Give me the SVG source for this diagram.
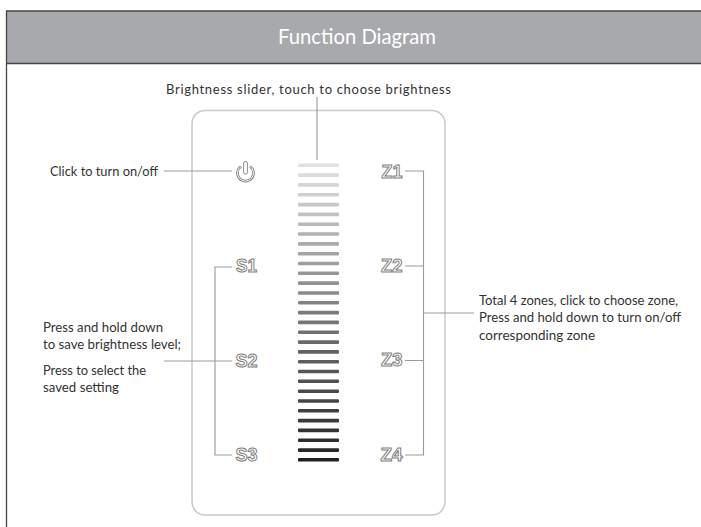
<svg xmlns="http://www.w3.org/2000/svg" width="701" height="527" viewBox="0 0 701 527">
<style>
.t{font-family:Lato,"Open Sans","Liberation Sans",sans-serif;font-size:13px;fill:#333;opacity:.999;}
.k{font-family:"Liberation Sans",Arial,sans-serif;font-size:18px;font-weight:bold;fill:#fff;stroke:#808080;stroke-width:1px;opacity:.999;}
.c{fill:none;stroke:#999;stroke-width:1.100;}
</style>
<rect width="701" height="527" fill="#fff"/>
<g id="frame">
<rect x="6" y="11" width="695" height="53" fill="#a7a9ac"/>
<path d="M701 11H6.500V527M6.500 63.500H701" fill="none" stroke="#444" stroke-width="1.300"/>
<text x="278" y="44" textLength="158" lengthAdjust="spacingAndGlyphs" style="font-family:Lato,'Open Sans',sans-serif;font-size:20.500px;fill:#fff;opacity:.999">Function Diagram</text>
</g>
<g id="panel"><rect x="192" y="110.500" width="253" height="404.500" rx="13" fill="none" stroke="#c9c9c9" stroke-width="1.500"/></g>
<g id="connectors">
<path class="c" d="M317 97V160M164 171H232M232 267H215V455H232M164 361H232M405 171H423.500V455H405M405 266H423.500M405 360.500H423.500M423.500 313H474"/>
</g>
<g id="slider">
<rect x="298" y="163.500" width="41" height="3.600" rx="1" fill="#e2e2e2"/>
<rect x="298" y="173.300" width="41" height="3.600" rx="1" fill="#dcdcdc"/>
<rect x="298" y="183.100" width="41" height="3.600" rx="1" fill="#d5d5d5"/>
<rect x="298" y="193" width="41" height="3.600" rx="1" fill="#cfcfcf"/>
<rect x="298" y="202.800" width="41" height="3.600" rx="1" fill="#c8c8c8"/>
<rect x="298" y="212.600" width="41" height="3.600" rx="1" fill="#c1c1c1"/>
<rect x="298" y="222.400" width="41" height="3.600" rx="1" fill="#bababa"/>
<rect x="298" y="232.200" width="41" height="3.600" rx="1" fill="#b3b3b3"/>
<rect x="298" y="242.100" width="41" height="3.600" rx="1" fill="#acacac"/>
<rect x="298" y="251.900" width="41" height="3.600" rx="1" fill="#a5a5a5"/>
<rect x="298" y="261.700" width="41" height="3.600" rx="1" fill="#9e9e9e"/>
<rect x="298" y="271.500" width="41" height="3.600" rx="1" fill="#979797"/>
<rect x="298" y="281.300" width="41" height="3.600" rx="1" fill="#919191"/>
<rect x="298" y="291.200" width="41" height="3.600" rx="1" fill="#8a8a8a"/>
<rect x="298" y="301" width="41" height="3.600" rx="1" fill="#838383"/>
<rect x="298" y="310.800" width="41" height="3.600" rx="1" fill="#7c7c7c"/>
<rect x="298" y="320.600" width="41" height="3.600" rx="1" fill="#767676"/>
<rect x="298" y="330.400" width="41" height="3.600" rx="1" fill="#707070"/>
<rect x="298" y="340.300" width="41" height="3.600" rx="1" fill="#696969"/>
<rect x="298" y="350.100" width="41" height="3.600" rx="1" fill="#636363"/>
<rect x="298" y="359.900" width="41" height="3.600" rx="1" fill="#5d5d5d"/>
<rect x="298" y="369.700" width="41" height="3.600" rx="1" fill="#575757"/>
<rect x="298" y="379.500" width="41" height="3.600" rx="1" fill="#515151"/>
<rect x="298" y="389.400" width="41" height="3.600" rx="1" fill="#4b4b4b"/>
<rect x="298" y="399.200" width="41" height="3.600" rx="1" fill="#454545"/>
<rect x="298" y="409" width="41" height="3.600" rx="1" fill="#3f3f3f"/>
<rect x="298" y="418.800" width="41" height="3.600" rx="1" fill="#393939"/>
<rect x="298" y="428.600" width="41" height="3.600" rx="1" fill="#333"/>
<rect x="298" y="438.500" width="41" height="3.600" rx="1" fill="#2d2d2d"/>
<rect x="298" y="448.300" width="41" height="3.600" rx="1" fill="#272727"/>
<rect x="298" y="458" width="41" height="3.600" rx="1" fill="#202020"/>
</g>
<g id="power">
<rect x="243.600" y="161.500" width="3.800" height="12.500" rx="1.500" fill="#fff" stroke="#808080" stroke-width=".9"/>
<path d="M241 166.500A8 8 0 1 0 250 166.500" fill="none" stroke="#808080" stroke-width="2.600"/>
<path d="M241 166.500A8 8 0 1 0 250 166.500" fill="none" stroke="#fff" stroke-width="1"/>
</g>
<g id="s1"><text class="k" x="236" y="272.300" textLength="21" lengthAdjust="spacingAndGlyphs">S1</text></g>
<g id="s2"><text class="k" x="235.500" y="366.500" textLength="22" lengthAdjust="spacingAndGlyphs">S2</text></g>
<g id="s3"><text class="k" x="235.500" y="461" textLength="22" lengthAdjust="spacingAndGlyphs">S3</text></g>
<g id="z1"><text class="k" x="381.500" y="177.500" textLength="21" lengthAdjust="spacingAndGlyphs">Z1</text></g>
<g id="z2"><text class="k" x="381" y="272" textLength="21.500" lengthAdjust="spacingAndGlyphs">Z2</text></g>
<g id="z3"><text class="k" x="381" y="366" textLength="21.500" lengthAdjust="spacingAndGlyphs">Z3</text></g>
<g id="z4"><text class="k" x="380.500" y="461" textLength="22" lengthAdjust="spacingAndGlyphs">Z4</text></g>
<g id="labels">
<text class="t" x="166" y="93.500" textLength="285">Brightness slider, touch to choose brightness</text>
<text class="t" x="50" y="176" textLength="108" lengthAdjust="spacingAndGlyphs">Click to turn on/off</text>
<text class="t" x="43" y="332" textLength="120" lengthAdjust="spacingAndGlyphs">Press and hold down</text>
<text class="t" x="43" y="349" textLength="138" lengthAdjust="spacingAndGlyphs">to save brightness level;</text>
<text class="t" x="43" y="375" textLength="103" lengthAdjust="spacingAndGlyphs">Press to select the</text>
<text class="t" x="43" y="392" textLength="76" lengthAdjust="spacingAndGlyphs">saved setting</text>
<text class="t" x="479" y="305" textLength="199" lengthAdjust="spacingAndGlyphs">Total 4 zones, click to choose zone,</text>
<text class="t" x="479" y="322" textLength="202" lengthAdjust="spacingAndGlyphs">Press and hold down to turn on/off</text>
<text class="t" x="479" y="340" textLength="116" lengthAdjust="spacingAndGlyphs">corresponding zone</text>
</g>
</svg>
